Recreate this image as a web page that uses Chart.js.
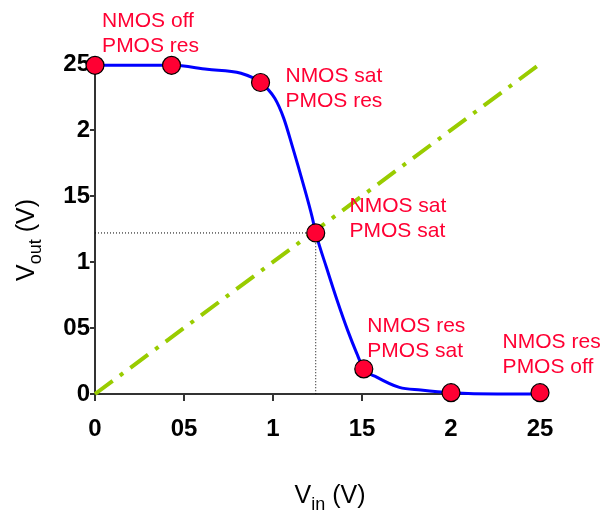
<!DOCTYPE html>
<html>
<head>
<meta charset="utf-8">
<script src="https://cdn.jsdelivr.net/npm/chart.js@4/dist/chart.umd.min.js"></script>
<style>
    html, body { margin: 0; padding: 0; background: #fff; }
    canvas { display: block; }
</style>
</head>
<body>
<canvas id="vtc" width="603" height="515"></canvas>
<script>
// ============================================================
// DATA
// ============================================================
const curveVin  = [0, 0.43, 0.63, 0.82, 0.93, 1.01, 1.06, 1.11, 1.17, 1.22, 1.24, 1.30, 1.36, 1.42, 1.47, 1.51, 1.58, 1.71, 1.83, 2.00, 2.26, 2.50];
const curveVout = [2.49, 2.49, 2.46, 2.43, 2.36, 2.24, 2.09, 1.87, 1.59, 1.34, 1.22, 0.96, 0.71, 0.48, 0.31, 0.19, 0.13, 0.05, 0.03, 0.01, 0.00, 0.00];

const markerVin  = [0, 0.43, 0.93, 1.24, 1.51, 2.00, 2.50];
const markerVout = [2.49, 2.49, 2.36, 1.22, 0.19, 0.01, 0.01];

const refVin  = [0, 2.5];   // Vout = Vin line
const refVout = [0, 2.5];

const switchVin  = [0, 1.24, 1.24];  // dotted guide to the switching point
const switchVout = [1.22, 1.22, 0];

const xTickLabels = ['0', '05', '1', '15', '2', '25'];
const yTickLabels = ['0', '05', '1', '15', '2', '25'];

// region notes: two lines, anchored (left, first baseline) in data units
const noteLines = [
    ['NMOS off', 'PMOS res'],
    ['NMOS sat', 'PMOS res'],
    ['NMOS sat', 'PMOS sat'],
    ['NMOS res', 'PMOS sat'],
    ['NMOS res', 'PMOS off']
];
const noteVin  = [0.04, 1.07, 1.43, 1.53, 2.29];
const noteVout = [2.78, 2.36, 1.38, 0.47, 0.35];

const pts = (xs, ys) => xs.map((x, i) => ({ x: x, y: ys[i] }));

// ============================================================
// PLUGINS
// ============================================================
const RED = '#ff0033';
const FONT = '"Liberation Sans", Arial, sans-serif';

const notesPlugin = {
    id: 'notes',
    afterDatasetsDraw(chart) {
        const { ctx, scales: { x, y } } = chart;
        ctx.save();
        ctx.fillStyle = RED;
        ctx.font = '21px ' + FONT;
        ctx.textAlign = 'left';
        ctx.textBaseline = 'alphabetic';
        noteLines.forEach((lines, i) => {
            const px = x.getPixelForValue(noteVin[i]);
            const py = y.getPixelForValue(noteVout[i]);
            lines.forEach((t, j) => ctx.fillText(t, px, py + j * 25));
        });
        ctx.restore();
    }
};

// axis titles with subscripts
function subTitle(ctx, main, sub, rest, cx, baseline) {
    const big = '25px ' + FONT;
    const small = '18px ' + FONT;
    ctx.font = big;
    const w1 = ctx.measureText(main).width;
    const w3 = ctx.measureText(rest).width;
    ctx.font = small;
    const w2 = ctx.measureText(sub).width;
    const left = cx - (w1 + w2 + w3) / 2;
    ctx.textAlign = 'left';
    ctx.textBaseline = 'alphabetic';
    ctx.font = big;
    ctx.fillText(main, left, baseline);
    ctx.font = small;
    ctx.fillText(sub, left + w1, baseline + 7);
    ctx.font = big;
    ctx.fillText(rest, left + w1 + w2, baseline);
}

const titlesPlugin = {
    id: 'titles',
    afterDraw(chart) {
        const ctx = chart.ctx;
        ctx.save();
        ctx.fillStyle = '#000';
        subTitle(ctx, 'V', 'in', ' (V)', 330, 503);
        ctx.translate(34, 240);
        ctx.rotate(-Math.PI / 2);
        subTitle(ctx, 'V', 'out', ' (V)', 0, 0);
        ctx.restore();
    }
};

// ============================================================
// CHART
// ============================================================
const tickFont = { family: FONT, size: 24, weight: 'bold' };

new Chart(document.getElementById('vtc'), {
    type: 'scatter',
    data: {
        datasets: [
            {
                data: pts(markerVin, markerVout),
                showLine: false,
                pointRadius: 9,
                pointBackgroundColor: RED,
                pointBorderColor: '#000',
                pointBorderWidth: 1.2
            },
            {
                data: pts(curveVin, curveVout),
                showLine: true,
                borderColor: '#0000ff',
                borderWidth: 3,
                cubicInterpolationMode: 'monotone',
                pointRadius: 0
            },
            {
                data: pts(refVin, refVout),
                showLine: true,
                borderColor: '#99cc00',
                borderWidth: 4,
                borderDash: [22, 9, 4, 9],
                pointRadius: 0
            },
            {
                data: pts(switchVin, switchVout),
                showLine: true,
                borderColor: '#000',
                borderWidth: 1,
                borderDash: [1, 2],
                pointRadius: 0
            }
        ]
    },
    options: {
        responsive: false,
        animation: false,
        clip: false,
        layout: { padding: { top: 64, right: 63, left: 0, bottom: 0 } },
        plugins: {
            legend: { display: false },
            tooltip: { enabled: false }
        },
        scales: {
            x: {
                type: 'linear',
                min: 0,
                max: 2.5,
                afterFit: (s) => { s.height = 121; },
                border: { display: true, color: '#333', width: 2 },
                grid: { drawOnChartArea: false, drawTicks: true, tickLength: 7, color: '#333', lineWidth: 2 },
                ticks: {
                    stepSize: 0.5,
                    autoSkip: false,
                    maxRotation: 0,
                    padding: 14,
                    color: '#000',
                    font: tickFont,
                    callback: (v, i) => xTickLabels[i]
                }
            },
            y: {
                type: 'linear',
                min: 0,
                max: 2.5,
                afterFit: (s) => { s.width = 95; },
                border: { display: true, color: '#333', width: 2 },
                grid: { drawOnChartArea: false, drawTicks: true, tickLength: 5, color: '#333', lineWidth: 2 },
                ticks: {
                    stepSize: 0.5,
                    autoSkip: false,
                    padding: 0,
                    color: '#000',
                    font: tickFont,
                    callback: (v, i) => yTickLabels[i]
                }
            }
        }
    },
    plugins: [notesPlugin, titlesPlugin]
});
</script>
</body>
</html>
